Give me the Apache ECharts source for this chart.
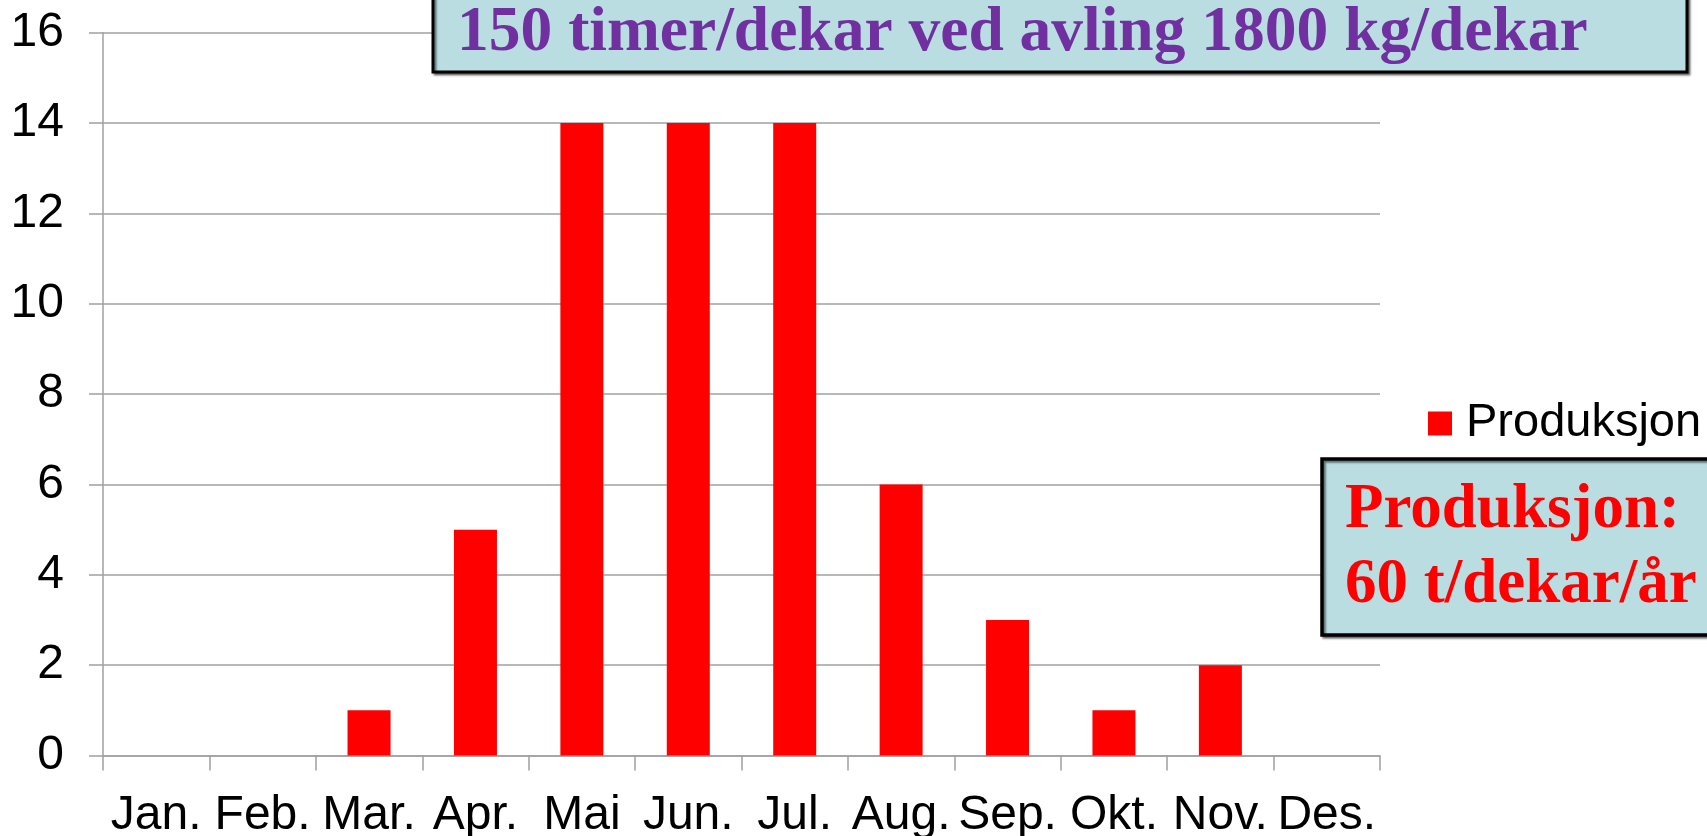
<!DOCTYPE html>
<html><head><meta charset="utf-8">
<script src="https://cdn.jsdelivr.net/npm/echarts@6/dist/echarts.min.js"></script>
<style>html,body{margin:0;padding:0;background:#fff}#c{width:1707px;height:836px}</style>
</head><body><div id="c"></div>
<script>
var categories = ['Jan.','Feb.','Mar.','Apr.','Mai','Jun.','Jul.','Aug.','Sep.','Okt.','Nov.','Des.'];
var produksjon = [0,0,1,5,14,14,14,6,3,1,2,0];
var seriesName = 'Produksjon';
var titleText = '150 timer/dekar ved avling 1800 kg/dekar';
var noteLines = ['Produksjon:', '60 t/dekar/år'];

var chart = echarts.init(document.getElementById('c'));
chart.setOption({
  animation: false,
  grid: {left: 103, right: 327, top: 32.7, bottom: 80.5, containLabel: false, outerBoundsMode: 'none'},
  legend: {
    data: [seriesName], left: 1428, top: 400, padding: 0, icon: 'rect',
    itemWidth: 24, itemHeight: 24, itemGap: 10,
    textStyle: {fontFamily: 'Liberation Sans, Arial', fontSize: 47, color: '#000', padding: [0, 0, 0, 9]}
  },
  xAxis: {
    type: 'category', data: categories, boundaryGap: true,
    axisLine: {lineStyle: {color: '#a0a0a0', width: 1.5}},
    axisTick: {show: true, length: 15, lineStyle: {color: '#a0a0a0', width: 1.5}},
    axisLabel: {fontFamily: 'Liberation Sans, Arial', fontSize: 48, color: '#000', margin: 36, interval: 0}
  },
  yAxis: {
    type: 'value', min: 0, max: 16, interval: 2,
    axisLine: {show: true, lineStyle: {color: '#a0a0a0', width: 1.5}},
    axisTick: {show: true, length: 14, lineStyle: {color: '#a0a0a0', width: 1.5}},
    splitLine: {lineStyle: {color: '#a0a0a0', width: 1.5}},
    axisLabel: {fontFamily: 'Liberation Sans, Arial', fontSize: 48, color: '#000', margin: 39}
  },
  series: [{
    name: seriesName, type: 'bar', data: produksjon, barWidth: 43,
    itemStyle: {color: '#ff0000'}
  }],
  graphic: [
    {type: 'rect', shape: {x: 433, y: -10, width: 1254, height: 82},
     style: {fill: '#b9dde1', stroke: '#000', lineWidth: 3, shadowColor: 'rgba(0,0,0,0.5)', shadowOffsetX: 2, shadowOffsetY: 2, shadowBlur: 2}, z: 100},
    {type: 'text', x: 457, y: 34, z: 101,
     style: {text: titleText, fill: '#7030a0', font: 'bold 63.5px "Liberation Serif", "Times New Roman", serif', verticalAlign: 'middle'}},
    {type: 'rect', shape: {x: 1322, y: 459, width: 420, height: 176},
     style: {fill: '#b9dde1', stroke: '#000', lineWidth: 3.5, shadowColor: 'rgba(0,0,0,0.5)', shadowOffsetX: 2, shadowOffsetY: 2, shadowBlur: 2}, z: 100},
    {type: 'text', x: 1345, y: 511, z: 101,
     style: {text: noteLines[0], fill: '#ff0000', font: 'bold 63px "Liberation Serif", "Times New Roman", serif', verticalAlign: 'middle'}},
    {type: 'text', x: 1345, y: 586, z: 101,
     style: {text: noteLines[1], fill: '#ff0000', font: 'bold 63px "Liberation Serif", "Times New Roman", serif', verticalAlign: 'middle'}}
  ]
});
</script></body></html>
